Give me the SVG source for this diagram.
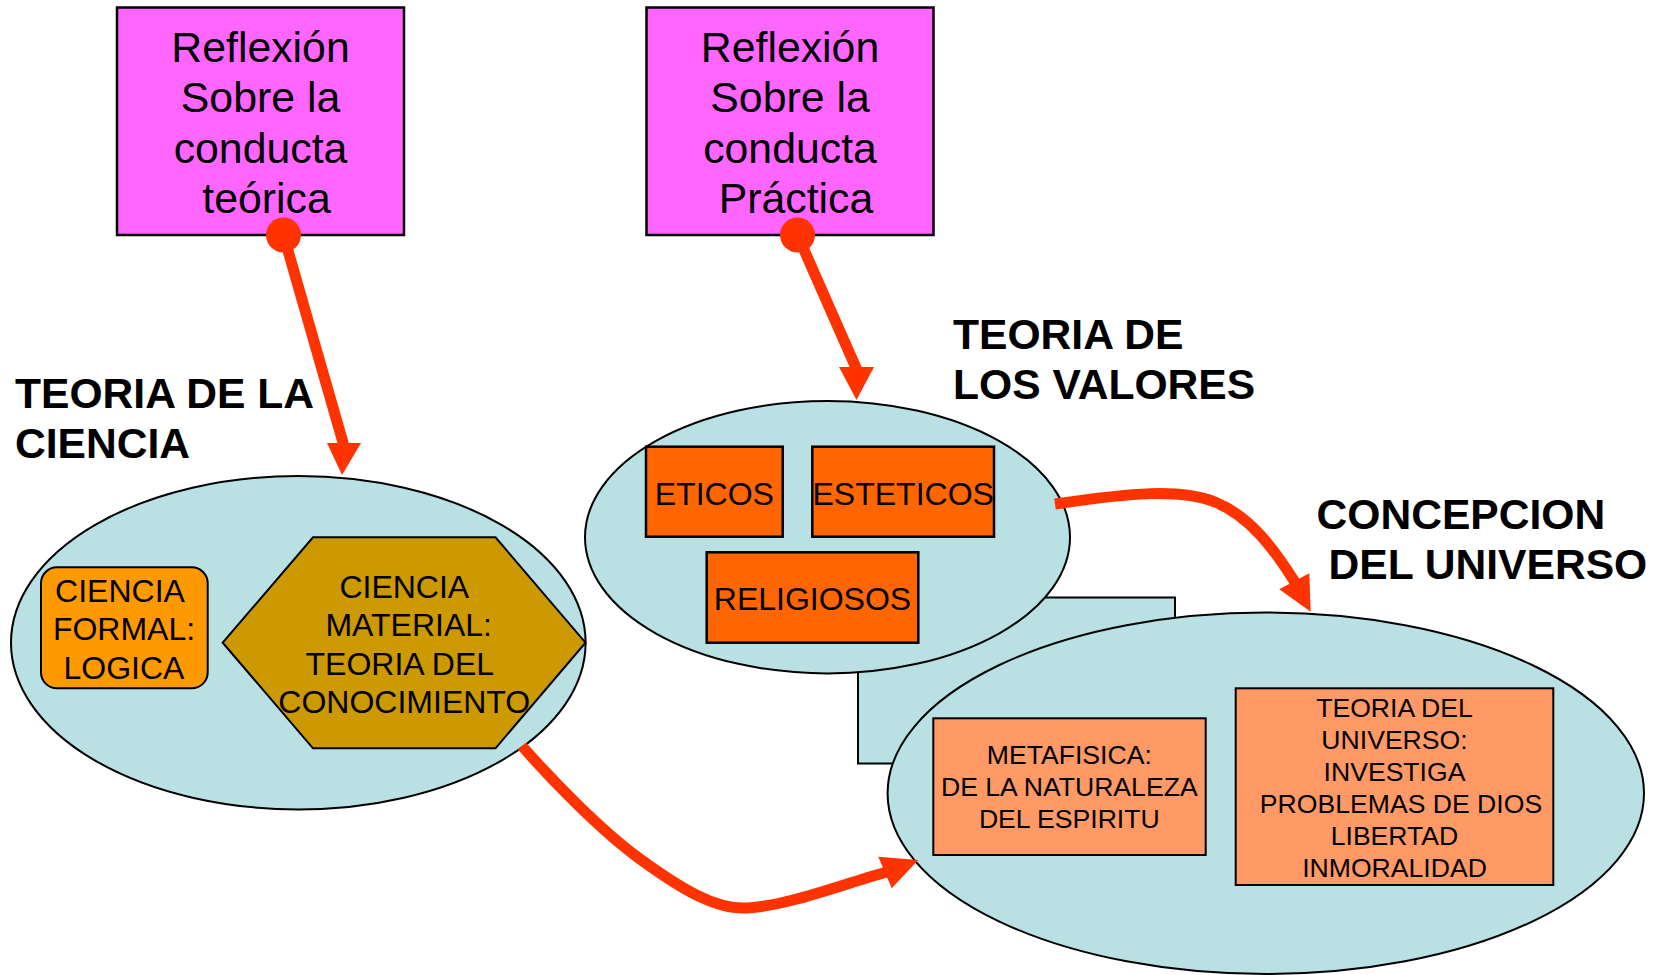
<svg xmlns="http://www.w3.org/2000/svg" width="1655" height="975" viewBox="0 0 1655 975">
<style>
.bg{fill:#FFFFFF}
.box{fill:#FF66FF;stroke:#000;stroke-width:2.5}
.ell{fill:#B9E0E3;stroke:#000;stroke-width:2}
.formal{fill:#FF9900;stroke:#000;stroke-width:2}
.hex{fill:#CC9900;stroke:#000;stroke-width:2}
.val{fill:#FF6600;stroke:#000;stroke-width:2.5}
.uni{fill:#FF9966;stroke:#000;stroke-width:2}
.t{font-family:"Liberation Sans",Arial,sans-serif;fill:#000;text-anchor:middle}
.t42{font-size:42.8px}
.t31{font-size:32px}
.t32{font-size:32px}
.t25{font-size:26.6px}
.title{font-family:"Liberation Sans",Arial,sans-serif;font-weight:bold;font-size:42.6px;fill:#000}
.conn{fill:none;stroke:#FF3300;stroke-width:11;stroke-linecap:butt}
.head{fill:#FF3300}
.dot{fill:#FF3300}
</style>
<rect class="bg" x="0" y="0" width="1655" height="975"/>

<g id="reflexion-teorica">
<rect class="box" x="117" y="7.5" width="287" height="227.5"/>
<text class="t t42" x="260.5" y="61.5">Reflexión</text>
<text class="t t42" x="260.5" y="112">Sobre la</text>
<text class="t t42" x="260.5" y="162.5">conducta</text>
<text class="t t42" x="266.5" y="213">teórica</text>
</g>

<g id="reflexion-practica">
<rect class="box" x="646.5" y="7.5" width="287" height="227.5"/>
<text class="t t42" x="790" y="61.5">Reflexión</text>
<text class="t t42" x="790" y="112">Sobre la</text>
<text class="t t42" x="790" y="162.5">conducta</text>
<text class="t t42" x="796" y="213">Práctica</text>
</g>

<g id="teoria-de-la-ciencia">
<ellipse class="ell" cx="298.3" cy="642.7" rx="287.3" ry="166.7"/>
<text class="title" x="15" y="408">TEORIA DE LA</text>
<text class="title" x="15" y="458">CIENCIA</text>
</g>

<g id="ciencia-formal">
<rect class="formal" x="41" y="567.3" width="166.7" height="121" rx="16" ry="16"/>
<text class="t t31" x="120" y="602">CIENCIA</text>
<text class="t t31" x="124" y="640">FORMAL:</text>
<text class="t t31" x="124" y="678.5">LOGICA</text>
</g>

<g id="ciencia-material">
<polygon class="hex" points="222.7,642.7 313,537.3 495.5,537.3 585.5,642.7 495.5,748.3 313,748.3"/>
<text class="t t31" x="404.3" y="598">CIENCIA</text>
<text class="t t31" x="408.7" y="636">MATERIAL:</text>
<text class="t t31" x="399.8" y="674.5">TEORIA DEL</text>
<text class="t t31" x="404.3" y="712.5">CONOCIMIENTO</text>
</g>

<g id="panel">
<rect class="ell" x="858" y="597.5" width="317" height="166"/>
</g>

<g id="teoria-de-los-valores">
<ellipse class="ell" cx="827.5" cy="537.2" rx="242.5" ry="136.2"/>
<text class="title" x="953" y="348.5">TEORIA DE</text>
<text class="title" x="953" y="398.5">LOS VALORES</text>
</g>

<g id="eticos">
<rect class="val" x="646" y="446.7" width="136.7" height="90"/>
<text class="t t32" x="714.3" y="505">ETICOS</text>
</g>

<g id="esteticos">
<rect class="val" x="812.3" y="446.7" width="181.7" height="90"/>
<text class="t t32" x="903.2" y="505">ESTETICOS</text>
</g>

<g id="religiosos">
<rect class="val" x="706.7" y="552.3" width="211.6" height="90.4"/>
<text class="t t32" x="812.5" y="610">RELIGIOSOS</text>
</g>

<g id="concepcion-del-universo">
<ellipse class="ell" cx="1265.8" cy="793.3" rx="378.2" ry="180.7"/>
<text class="title" x="1316.5" y="528.5">CONCEPCION</text>
<text class="title" x="1328.5" y="578.5">DEL UNIVERSO</text>
</g>

<g id="metafisica">
<rect class="uni" x="933.3" y="718.3" width="272.4" height="136.7"/>
<text class="t t25" x="1069.3" y="764.3">METAFISICA:</text>
<text class="t t25" x="1069.3" y="796.3">DE LA NATURALEZA</text>
<text class="t t25" x="1069.3" y="828.3">DEL ESPIRITU</text>
</g>

<g id="teoria-del-universo">
<rect class="uni" x="1235.7" y="688.3" width="317.6" height="196.7"/>
<text class="t t25" x="1394.5" y="716.7">TEORIA DEL</text>
<text class="t t25" x="1394.5" y="748.7">UNIVERSO:</text>
<text class="t t25" x="1394.5" y="780.7">INVESTIGA</text>
<text class="t t25" x="1401" y="812.7">PROBLEMAS DE DIOS</text>
<text class="t t25" x="1394.5" y="844.7">LIBERTAD</text>
<text class="t t25" x="1394.5" y="876.7">INMORALIDAD</text>
</g>

<g id="connectors">
<path class="conn" d="M283.5,235 L344,446"/>
<polygon class="head" points="327,443 361,443 342,475"/>
<circle class="dot" cx="283.5" cy="235" r="17.5"/>

<path class="conn" d="M797.5,235 L856.5,369"/>
<polygon class="head" points="839,367 874,367 856.5,400"/>
<circle class="dot" cx="797.5" cy="235" r="17.5"/>

<path class="conn" d="M1055,504 C1130,493 1180,488 1215,502 C1250,516 1275,550 1296,584"/>
<polygon class="head" points="1279.3,589.3 1309.3,573.3 1310.7,611.7"/>

<path class="conn" d="M522,746 C550,778 600,830 640,859 C680,888 715,910 748,908 C790,905 840,885 887,872"/>
<polygon class="head" points="878.3,856.7 891.7,888.3 918.3,860"/>
</g>
</svg>
